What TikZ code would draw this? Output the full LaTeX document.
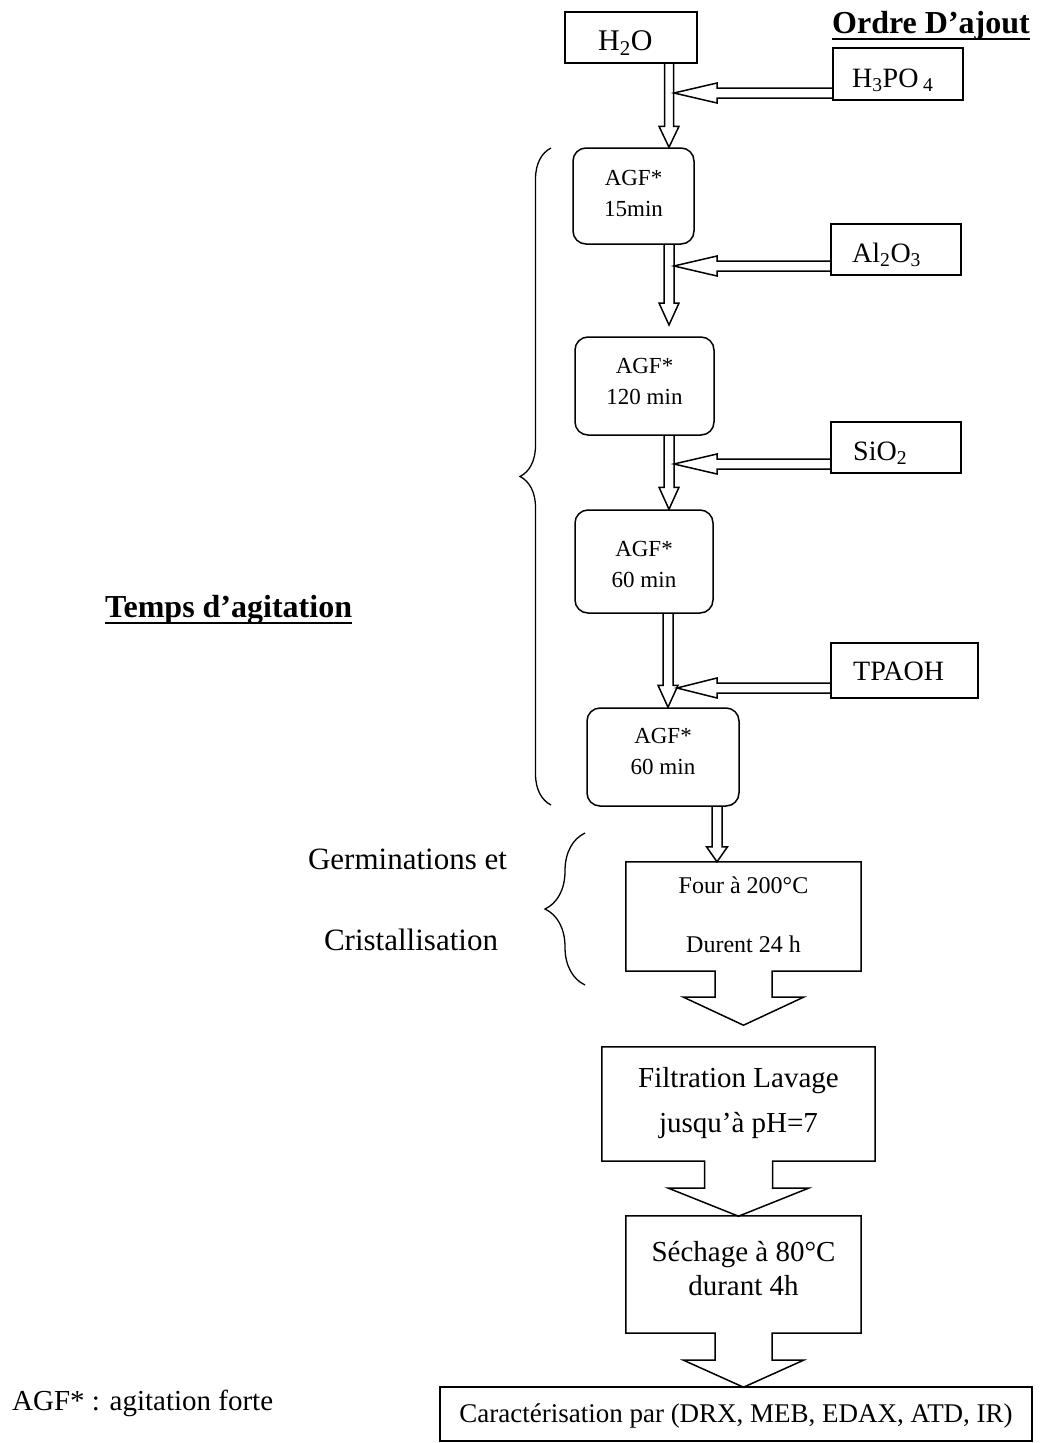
\documentclass[tikz,border=0pt]{standalone}
\usepackage{fontspec}
\setmainfont{Liberation Serif}
\usetikzlibrary{calc,decorations.pathreplacing}
\newcommand\fsagf{\fontsize{23pt}{28pt}\selectfont}
\newcommand\fschem{\fontsize{28pt}{34pt}\selectfont}
\newcommand\fswater{\fontsize{30pt}{36pt}\selectfont}
\newcommand\fsfour{\fontsize{24pt}{29pt}\selectfont}
\newcommand\fsmid{\fontsize{29pt}{35pt}\selectfont}
\newcommand\fsbig{\fontsize{31pt}{37pt}\selectfont}
\newcommand\fsbold{\fontsize{32pt}{38pt}\selectfont\bfseries}
\newcommand\fscar{\fontsize{27pt}{32pt}\selectfont}
% vertical block arrow: start, tip, head length, shaft half, head half
\newcommand\varrow[5]{\draw[ln] ($(#1)+(-#4,0)$) -- ($(#2)+(-#4,-#3)$) -- ($(#2)+(-#5,-#3)$) -- (#2) -- ($(#2)+(#5,-#3)$) -- ($(#2)+(#4,-#3)$) -- ($(#1)+(#4,0)$);}
% horizontal block arrow (pointing left): start, tip, head length, shaft half, head half
\newcommand\harrow[5]{\draw[ln] ($(#1)+(0,-#4)$) -- ($(#2)+(#3,-#4)$) -- ($(#2)+(#3,-#5)$) -- (#2) -- ($(#2)+(#3,#5)$) -- ($(#2)+(#3,#4)$) -- ($(#1)+(0,#4)$);}
% box outline with attached block arrow: node, shaft half, head half, shaft length, tip offset
\newcommand\boxarrow[5]{\draw[ln] (#1.south west) -- (#1.north west) -- (#1.north east) -- (#1.south east) -- ($(#1.south)+(#2,0)$) -- ($(#1.south)+(#2,#4)$) -- ($(#1.south)+(#3,#4)$) -- ($(#1.south)+(0,#5)$) -- ($(#1.south)+(-#3,#4)$) -- ($(#1.south)+(-#2,#4)$) -- ($(#1.south)+(-#2,0)$) -- cycle;}
\begin{document}
\begin{tikzpicture}[x=1pt,y=-1pt,
  ln/.style={line width=1.5pt, line join=miter},
  boxsq/.style={draw, line width=1.5pt, rectangle, inner sep=0pt},
  boxrd/.style={boxsq, rounded corners=13pt},
  boxnd/.style={rectangle, inner sep=0pt},
  txt/.style={inner sep=0pt, anchor=base},
  txtw/.style={inner sep=0pt, anchor=base west},
  brc/.style={line width=1.3pt, decorate}]
\path[fill=white] (0,0) rectangle (1039,1443);
\useasboundingbox (0,0) rectangle (1039,1443);

% titles
\node[txtw, font=\fsbold] (ordre) at (832,33) {Ordre D’ajout};
\draw[line width=2.5pt] ($(ordre.base west)+(0,6)$) -- ($(ordre.base east)+(0,6)$);
\node[txtw, font=\fsbold] (temps) at (105,617) {Temps d’agitation};
\draw[line width=2.5pt] ($(temps.base west)+(0,6)$) -- ($(temps.base east)+(0,6)$);

% reagent boxes
\node[boxsq, minimum width=132pt, minimum height=51pt] (h2o) at (631,37.5) {};
\node[txtw, font=\fswater] (h2ot) at (598,50) {H\textsubscript{2}O};
\node[boxsq, minimum width=130pt, minimum height=52pt] (h3po4) at (898,74) {};
\node[txtw, font=\fschem] (h3po4t) at (852,87) {H\textsubscript{3}PO\,\textsubscript{4}};
\node[boxsq, minimum width=130pt, minimum height=51pt] (al) at (896,249.5) {};
\node[txtw, font=\fschem] (alt) at (852,262) {Al\textsubscript{2}O\textsubscript{3}};
\node[boxsq, minimum width=130pt, minimum height=51pt] (si) at (896,447.5) {};
\node[txtw, font=\fschem] (sit) at (853,460) {SiO\textsubscript{2}};
\node[boxsq, minimum width=147pt, minimum height=55pt] (tpa) at (904.5,670.5) {};
\node[txtw, font=\fschem] (tpat) at (853,680) {TPAOH};

% agitation boxes
\node[boxrd, minimum width=121pt, minimum height=96pt] (a1) at (633.5,196) {};
\node[txt, font=\fsagf] (a1t) at (633.5,185) {AGF*};
\node[txt, font=\fsagf] (a1u) at (633.5,216) {15min};
\node[boxrd, minimum width=139pt, minimum height=98pt] (a2) at (644.5,386) {};
\node[txt, font=\fsagf] (a2t) at (644.5,373) {AGF*};
\node[txt, font=\fsagf] (a2u) at (644.5,404) {120 min};
\node[boxrd, minimum width=138pt, minimum height=103pt] (a3) at (644,561.5) {};
\node[txt, font=\fsagf] (a3t) at (644,556) {AGF*};
\node[txt, font=\fsagf] (a3u) at (644,587) {60 min};
\node[boxrd, minimum width=152pt, minimum height=98pt] (a4) at (663,757) {};
\node[txt, font=\fsagf] (a4t) at (663,743) {AGF*};
\node[txt, font=\fsagf] (a4u) at (663,774) {60 min};

% process boxes
\node[boxnd, minimum width=235pt, minimum height=109pt] (four) at (743.5,916.5) {};
\node[txt, font=\fsfour] (fourt) at (743.5,893) {Four à 200°C};
\node[txt, font=\fsfour] (fouru) at (743.5,952) {Durent 24 h};
\node[boxnd, minimum width=273pt, minimum height=114pt] (filt) at (738.5,1104) {};
\node[txt, font=\fsmid] (filtt) at (738.5,1087) {Filtration Lavage};
\node[txt, font=\fsmid] (filtu) at (738.5,1132) {jusqu’à pH=7};
\node[boxnd, minimum width=235pt, minimum height=117pt] (sech) at (743.5,1274.5) {};
\node[txt, font=\fsmid] (secht) at (743.5,1261) {Séchage à 80°C};
\node[txt, font=\fsmid] (sechu) at (743.5,1295) {durant 4h};
\node[boxsq, minimum width=592pt, minimum height=54pt] (car) at (736,1414) {};
\node[txt, font=\fscar] (cart) at (736,1422) {Caractérisation par (DRX, MEB, EDAX, ATD, IR)};

\boxarrow{four}{28.5}{60}{26}{54}
\boxarrow{filt}{34}{70}{27}{55}
\boxarrow{sech}{28.5}{60}{27}{54}

% columns / rows
\coordinate (colA) at (669,0);
\coordinate (colB) at (668,0);
\coordinate (colC) at (717,0);
\coordinate (v2t) at (669,325);

\varrow{h2o.south -| colA}{a1.north -| colA}{21}{4.5}{10}
\varrow{a1.south -| colA}{v2t}{22}{5}{10}
\varrow{a2.south -| colA}{a3.north -| colA}{22}{5}{10}
\varrow{a3.south -| colB}{a4.north -| colB}{22}{5}{10}
\varrow{a4.south -| colC}{four.north -| colC}{15}{5}{10.5}

\coordinate (r1) at (674,93);
\coordinate (r2) at (674,266);
\coordinate (r3) at (674,464);
\coordinate (r4) at (677,688);
\harrow{h3po4.west |- r1}{r1}{43}{5}{10}
\harrow{al.west |- r2}{r2}{43}{5}{10}
\harrow{si.west |- r3}{r3}{43}{5}{10}
\harrow{tpa.west |- r4}{r4}{40}{5}{10}

% braces
\coordinate (bA1) at (551,805);
\coordinate (bA2) at (551,148);
\draw[brc, decoration={brace, amplitude=31pt}] (bA1) -- (bA2);
\coordinate (bB1) at (585,985);
\coordinate (bB2) at (585,833);
\draw[brc, decoration={brace, amplitude=40pt}] (bB1) -- (bB2);

\node[txt, font=\fsbig] (germ) at (407.5,869) {Germinations et};
\node[txt, font=\fsbig] (crist) at (411,950) {Cristallisation};
\node[txtw, font=\fsmid] (leg) at (12,1410) {AGF* : agitation forte};
\end{tikzpicture}
\end{document}
